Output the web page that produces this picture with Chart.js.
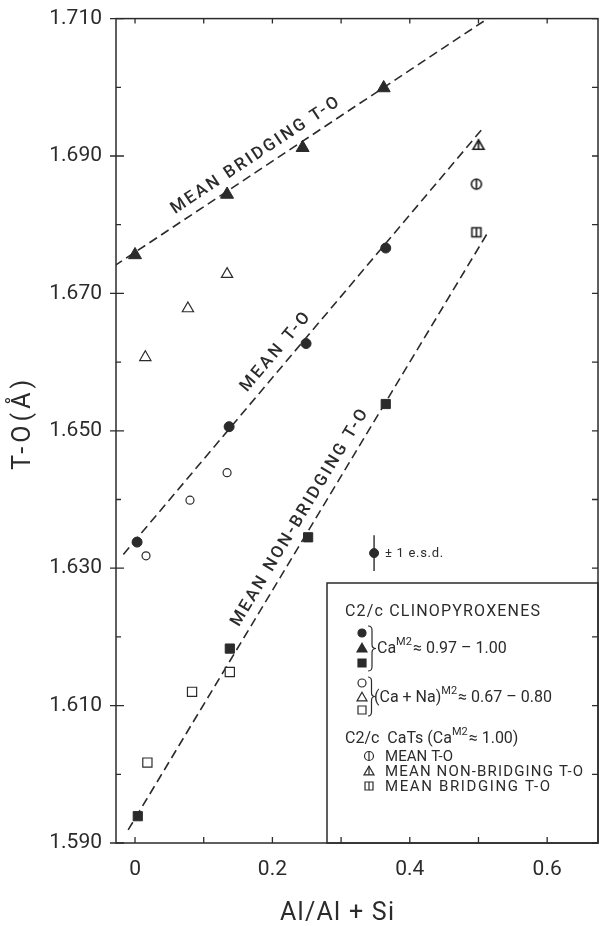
<!DOCTYPE html>
<html lang="en">
<head>
    <meta charset="UTF-8">
    <title>T-O vs Al/Al+Si, C2/c clinopyroxenes</title>
    <style>
        body {
            margin: 0;
            background: #fff;
        }

        #chartContainer {
            width: 608px;
            height: 926px;
        }
    </style>
    <script src="https://cdn.jsdelivr.net/npm/chart.js"></script>
</head>

<body>
    <div id="chartContainer">
        <canvas id="chart1"></canvas>
    </div>

    <script>
        // C2/c clinopyroxenes, Ca(M2) ~ 0.97-1.00 (filled symbols)
        const bridgingX = [0.000, 0.134, 0.244, 0.362];
        const bridgingY = [1.6756, 1.6844, 1.6912, 1.6999];
        const meanX = [0.003, 0.137, 0.249, 0.365];
        const meanY = [1.6338, 1.6506, 1.6627, 1.6766];
        const nonBridgingX = [0.004, 0.138, 0.252, 0.365];
        const nonBridgingY = [1.5939, 1.6183, 1.6345, 1.6539];

        // (Ca+Na)(M2) ~ 0.67-0.80 (open symbols)
        const openMeanX = [0.016, 0.080, 0.134];
        const openMeanY = [1.6318, 1.6399, 1.6439];
        const openNonBridgingX = [0.015, 0.077, 0.134];
        const openNonBridgingY = [1.6607, 1.6678, 1.6728];
        const openBridgingX = [0.018, 0.083, 0.138];
        const openBridgingY = [1.6017, 1.6120, 1.6149];

        // C2/c CaTs: mean, mean non-bridging, mean bridging
        const catsX = [0.497, 0.500, 0.497];
        const catsY = [1.6859, 1.6916, 1.6789];

        // dashed fit lines (end points)
        const bridgingLineX = [-0.030, 0.530];
        const bridgingLineY = [1.6740, 1.7111];
        const meanLineX = [-0.017, 0.506];
        const meanLineY = [1.6320, 1.6940];
        const nonBridgingLineX = [-0.010, 0.515];
        const nonBridgingLineY = [1.5919, 1.6791];

        // +- 1 e.s.d. marker
        const esdX = [0.348];
        const esdY = [1.6322];
        const esdErr = 0.0026;

        // tick labels
        const xTickLabels = ['0', '0.2', '0.4', '0.6'];
        const yTickLabels = ['1.590', '1.610', '1.630', '1.650', '1.670', '1.690', '1.710'];

        const ink = '#2b2b2b';
        const FONT = 'Roboto, "DejaVu Sans", sans-serif';

        function pts(xs, ys) {
            return xs.map((x, i) => ({ x: x, y: ys[i] }));
        }

        // draw one marker shape (used for legend and CaTs point images)
        function drawSymbol(g, shape, filled, x, y, s, bar) {
            g.save();
            g.beginPath();
            if (shape === 'circle') {
                g.arc(x, y, s / 2, 0, Math.PI * 2);
            } else if (shape === 'triangle') {
                const h = s * 0.87;
                g.moveTo(x, y - h * 0.55);
                g.lineTo(x + s / 2, y + h * 0.45);
                g.lineTo(x - s / 2, y + h * 0.45);
                g.closePath();
            } else {
                g.rect(x - s / 2, y - s / 2, s, s);
            }
            g.fillStyle = filled ? ink : '#fff';
            g.fill();
            g.stroke();
            if (bar) {
                g.beginPath();
                const top = shape === 'triangle' ? y - s * 0.87 * 0.55 : y - s / 2;
                const bottom = shape === 'triangle' ? y + s * 0.87 * 0.45 : y + s / 2;
                g.moveTo(x, top);
                g.lineTo(x, bottom);
                g.stroke();
            }
            g.restore();
        }

        function symbolImage(shape, s) {
            const c = document.createElement('canvas');
            c.width = 16;
            c.height = 16;
            const g = c.getContext('2d');
            g.strokeStyle = '#1c1c1c';
            g.lineWidth = 1.6;
            drawSymbol(g, shape, false, 8, 8, s, true);
            return c;
        }

        // text stretched to a given width with letter spacing
        function spacedText(ctx, text, x, y, width) {
            ctx.letterSpacing = '0px';
            const w = ctx.measureText(text).width;
            const n = [...text].length;
            const sp = n > 1 ? (width - w) / (n - 1) : 0;
            ctx.letterSpacing = sp + 'px';
            ctx.fillText(text, x, y);
            ctx.letterSpacing = '0px';
        }

        // text with superscript parts
        function richText(ctx, parts, x, y, size) {
            let cx = x;
            parts.forEach(p => {
                const sup = p[1] === 'sup';
                ctx.font = (sup ? Math.round(size * 0.7) : size) + 'px ' + FONT;
                ctx.fillText(p[0], cx, sup ? y - size * 0.4 : y);
                cx += ctx.measureText(p[0]).width + (sup ? 1 : 0);
            });
        }

        function brace(ctx, x, y1, y2, w) {
            const ym = (y1 + y2) / 2;
            ctx.beginPath();
            ctx.moveTo(x, y1);
            ctx.quadraticCurveTo(x + w * 0.55, y1, x + w * 0.5, y1 + 5);
            ctx.lineTo(x + w * 0.5, ym - 4);
            ctx.quadraticCurveTo(x + w * 0.5, ym, x + w, ym);
            ctx.quadraticCurveTo(x + w * 0.5, ym, x + w * 0.5, ym + 4);
            ctx.lineTo(x + w * 0.5, y2 - 5);
            ctx.quadraticCurveTo(x + w * 0.55, y2, x, y2);
            ctx.stroke();
        }

        const lineLabels = [
            { text: 'MEAN BRIDGING T-O', lx: bridgingLineX, ly: bridgingLineY, at: 0.186, width: 198 },
            { text: 'MEAN T-O', lx: meanLineX, ly: meanLineY, at: 0.220, width: 98 },
            { text: 'MEAN NON-BRIDGING T-O', lx: nonBridgingLineX, ly: nonBridgingLineY, at: 0.257, width: 250 }
        ];

        // frame, inward ticks, line labels, legend and axis titles
        const decorations = {
            id: 'decorations',
            afterDraw(chart) {
                const ctx = chart.ctx;
                const a = chart.chartArea;
                const x = chart.scales.x;
                const y = chart.scales.y;
                ctx.save();
                ctx.strokeStyle = ink;
                ctx.fillStyle = ink;
                ctx.lineWidth = 1.5;
                ctx.strokeRect(a.left, a.top, a.right - a.left, a.bottom - a.top);

                ctx.lineWidth = 1.3;
                ctx.beginPath();
                x.ticks.forEach(t => {
                    const px = x.getPixelForValue(t.value);
                    ctx.moveTo(px, a.top);
                    ctx.lineTo(px, a.top + 5);
                    ctx.moveTo(px, a.bottom);
                    ctx.lineTo(px, a.bottom - 6);
                });
                y.ticks.forEach(t => {
                    const py = y.getPixelForValue(t.value);
                    if (t.label !== '') {
                        ctx.moveTo(a.left - 6, py);
                        ctx.lineTo(a.left + 8, py);
                    } else {
                        ctx.moveTo(a.left, py);
                        ctx.lineTo(a.left + 5, py);
                    }
                    ctx.moveTo(a.right, py);
                    ctx.lineTo(a.right - 6, py);
                });
                ctx.stroke();

                // labels along the dashed lines
                ctx.font = '500 17px ' + FONT;
                ctx.textBaseline = 'middle';
                ctx.textAlign = 'left';
                lineLabels.forEach(l => {
                    const x1 = x.getPixelForValue(l.lx[0]), y1 = y.getPixelForValue(l.ly[0]);
                    const x2 = x.getPixelForValue(l.lx[1]), y2 = y.getPixelForValue(l.ly[1]);
                    const ang = Math.atan2(y2 - y1, x2 - x1);
                    const f = (l.at - l.lx[0]) / (l.lx[1] - l.lx[0]);
                    const px = x1 + (x2 - x1) * f;
                    const py = y1 + (y2 - y1) * f;
                    const off = 14;
                    ctx.save();
                    ctx.translate(px + Math.sin(ang) * off, py - Math.cos(ang) * off);
                    ctx.rotate(ang);
                    spacedText(ctx, l.text, -l.width / 2, 0, l.width);
                    ctx.restore();
                });

                // e.s.d. note
                ctx.font = '13px ' + FONT;
                spacedText(ctx, '\u00B1 1 e.s.d.', x.getPixelForValue(esdX[0]) + 11, y.getPixelForValue(esdY[0]) + 1, 58);

                // legend box
                const L = a.right - 271;
                const T = a.bottom - 260;
                ctx.lineWidth = 1.5;
                ctx.strokeRect(L, T, a.right - L, a.bottom - T);
                ctx.lineWidth = 1.2;
                ctx.font = '16px ' + FONT;
                spacedText(ctx, 'C2/c CLINOPYROXENES', L + 18, T + 29, 195);

                drawSymbol(ctx, 'circle', true, L + 35, T + 50, 8);
                drawSymbol(ctx, 'triangle', true, L + 35, T + 65, 10);
                drawSymbol(ctx, 'rect', true, L + 35, T + 80, 8);
                brace(ctx, L + 41, T + 43, T + 88, 8);
                richText(ctx, [['Ca', 'n'], ['M2', 'sup'], ['\u2248 0.97 \u2013 1.00', 'n']], L + 50, T + 66, 16);

                drawSymbol(ctx, 'circle', false, L + 35, T + 100, 8);
                drawSymbol(ctx, 'triangle', false, L + 35, T + 114, 10);
                drawSymbol(ctx, 'rect', false, L + 35, T + 127, 8);
                brace(ctx, L + 41, T + 94, T + 133, 7);
                richText(ctx, [['(Ca + Na)', 'n'], ['M2', 'sup'], ['\u2248 0.67 \u2013 0.80', 'n']], L + 47, T + 115, 16);

                richText(ctx, [['C2/c  CaTs (Ca', 'n'], ['M2', 'sup'], ['\u2248 1.00)', 'n']], L + 18, T + 156, 16);
                ctx.font = '15px ' + FONT;
                drawSymbol(ctx, 'circle', false, L + 42, T + 173, 9, true);
                spacedText(ctx, 'MEAN T-O', L + 58, T + 174, 68);
                drawSymbol(ctx, 'triangle', false, L + 42, T + 188, 10, true);
                spacedText(ctx, 'MEAN NON-BRIDGING T-O', L + 58, T + 189, 198);
                drawSymbol(ctx, 'rect', false, L + 42, T + 203, 8, true);
                spacedText(ctx, 'MEAN BRIDGING T-O', L + 58, T + 204, 165);

                // axis titles
                ctx.font = '25px ' + FONT;
                spacedText(ctx, 'Al/Al + Si', 337 - 57, 914, 114);
                ctx.save();
                ctx.translate(24, (a.top + a.bottom) / 2 - 6);
                ctx.rotate(-Math.PI / 2);
                spacedText(ctx, 'T-O(\u00C5)', -45, 0, 90);
                ctx.restore();

                ctx.restore();
            }
        };

        const tickFont = { family: FONT, size: 21 };

        const lineStyle = {
            showLine: true,
            borderColor: ink,
            borderWidth: 1.6,
            borderDash: [9, 5],
            pointRadius: 0,
            fill: false
        };

        new Chart(document.getElementById('chart1'), {
            type: 'scatter',
            data: {
                datasets: [
                    // filled symbols
                    { data: pts(bridgingX, bridgingY), pointStyle: 'triangle', pointRadius: 7.5, backgroundColor: ink, borderColor: ink },
                    { data: pts(meanX, meanY), pointStyle: 'circle', pointRadius: 5, backgroundColor: ink, borderColor: ink },
                    { data: pts(nonBridgingX, nonBridgingY), pointStyle: 'rect', pointRadius: 6.5, backgroundColor: ink, borderColor: ink },
                    // open symbols
                    { data: pts(openNonBridgingX, openNonBridgingY), pointStyle: 'triangle', pointRadius: 6.5, backgroundColor: '#fff', borderColor: ink, borderWidth: 1.2 },
                    { data: pts(openMeanX, openMeanY), pointStyle: 'circle', pointRadius: 4, backgroundColor: '#fff', borderColor: ink, borderWidth: 1.2 },
                    { data: pts(openBridgingX, openBridgingY), pointStyle: 'rect', pointRadius: 6.5, backgroundColor: '#fff', borderColor: ink, borderWidth: 1.2 },
                    // CaTs
                    { data: pts(catsX, catsY), pointStyle: [symbolImage('circle', 10), symbolImage('triangle', 11), symbolImage('rect', 9)], pointRadius: 6 },
                    // e.s.d. marker
                    { data: pts(esdX, esdY), pointStyle: 'circle', pointRadius: 4.5, backgroundColor: ink, borderColor: ink },
                    { data: [{ x: esdX[0], y: esdY[0] - esdErr }, { x: esdX[0], y: esdY[0] + esdErr }], showLine: true, borderColor: ink, borderWidth: 1.4, pointRadius: 0 },
                    // dashed fit lines
                    Object.assign({ data: pts(bridgingLineX, bridgingLineY) }, lineStyle),
                    Object.assign({ data: pts(meanLineX, meanLineY) }, lineStyle),
                    Object.assign({ data: pts(nonBridgingLineX, nonBridgingLineY) }, lineStyle)
                ]
            },
            options: {
                responsive: true,
                maintainAspectRatio: false,
                animation: false,
                layout: { padding: { top: 15, right: 10, left: 0, bottom: 0 } },
                plugins: {
                    legend: { display: false },
                    tooltip: { enabled: false }
                },
                scales: {
                    x: {
                        type: 'linear',
                        min: -0.0277,
                        max: 0.674,
                        grid: { display: false },
                        border: { display: false },
                        ticks: {
                            stepSize: 0.1,
                            includeBounds: false,
                            autoSkip: false,
                            maxRotation: 0,
                            padding: 6,
                            color: ink,
                            font: tickFont,
                            callback: v => {
                                const s = String(Math.round(v * 10) / 10);
                                return xTickLabels.includes(s) ? s : '';
                            }
                        },
                        afterFit: scale => { scale.height = 83; }
                    },
                    y: {
                        type: 'linear',
                        min: 1.590,
                        max: 1.710,
                        grid: { display: false },
                        border: { display: false },
                        ticks: {
                            stepSize: 0.01,
                            autoSkip: false,
                            padding: 6,
                            color: ink,
                            font: tickFont,
                            callback: v => {
                                const s = v.toFixed(3);
                                return yTickLabels.includes(s) ? s : '';
                            }
                        },
                        afterFit: scale => { scale.width = 116; }
                    }
                }
            },
            plugins: [decorations]
        });
    </script>
</body>

</html>
